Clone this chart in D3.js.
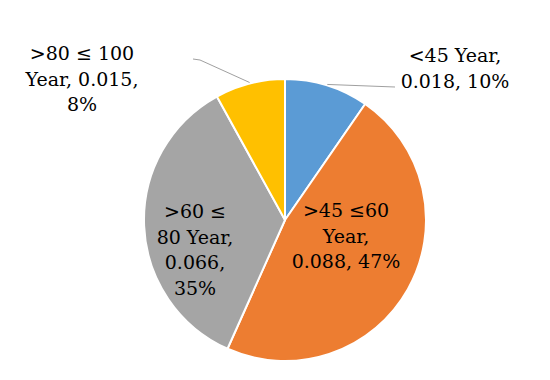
<!DOCTYPE html>
<html><head><meta charset="utf-8">
<script src="https://cdn.jsdelivr.net/npm/d3@7"></script>
<style>body{margin:0;background:#fff}svg{display:block}</style>
</head><body>
<svg id="c" width="550" height="380"></svg>
<script>
const categories = ["<45 Year", ">45 ≤60 Year", ">60 ≤ 80 Year", ">80 ≤ 100 Year"];
const values = [0.018, 0.088, 0.066, 0.015];
const percents = ["10%", "47%", "35%", "8%"];
const colors = ["#5B9BD5", "#ED7D31", "#A5A5A5", "#FFC000"];
const labelLines = [
  ["<45 Year,", "0.018, 10%"],
  [">45 ≤60", "Year,", "0.088, 47%"],
  [">60 ≤", "80 Year,", "0.066,", "35%"],
  [">80 ≤ 100", "Year, 0.015,", "8%"]
];

const svg = d3.select("#c");
const cx = 285, cy = 220, r = 141;
const g = svg.append("g").attr("transform", `translate(${cx},${cy})`);
const pie = d3.pie().sort(null).value(d => d);
const arcs = pie(values);
const arc = d3.arc().innerRadius(0).outerRadius(r);

g.selectAll("path").data(arcs).join("path")
  .attr("d", arc).attr("fill", (d, i) => colors[i])
  .attr("stroke", "#fff").attr("stroke-width", 2).attr("stroke-linejoin", "round");

const labelPos = [
  {x: 170, y: -158},
  {x: 61, y: -3},
  {x: -90, y: -2},
  {x: -203, y: -160}
];
const lineH = 25.5;

const pt = (a, rr) => [Math.sin(a) * rr, -Math.cos(a) * rr];
const leaders = [
  [pt(arcs[0].startAngle + (arcs[0].endAngle - arcs[0].startAngle) * 0.5, r + 1), [110, -133]],
  [pt(arcs[3].startAngle + (arcs[3].endAngle - arcs[3].startAngle) * 0.5, r + 1), [-85, -160], [-92, -161]]
];
leaders.forEach(pts => {
  g.append("path").attr("d", d3.line()(pts))
    .attr("fill", "none").attr("stroke", "#A0A0A0").attr("stroke-width", 1);
});

labelPos.forEach((p, i) => {
  const t = g.append("text")
    .attr("text-anchor", "middle")
    .attr("font-family", "'DejaVu Serif', serif")
    .attr("font-size", 19)
    .attr("fill", "#000");
  labelLines[i].forEach((ln, j) => {
    t.append("tspan").attr("x", p.x).attr("y", p.y + j * lineH).text(ln);
  });
});
</script>
</body></html>
